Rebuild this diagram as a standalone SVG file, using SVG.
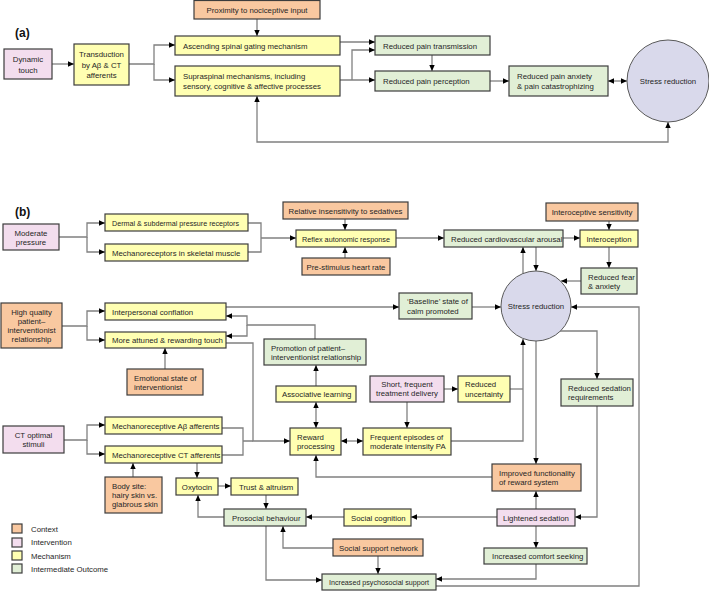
<svg xmlns="http://www.w3.org/2000/svg" width="709" height="591" viewBox="0 0 709 591">
<style>
.b{stroke:#3c3c3c;stroke-width:1.2}
.ctx{fill:#f9c8a0}
.int{fill:#f3ddee}
.mec{fill:#ffffb2}
.out{fill:#e1efd6}
.cir{fill:#d9d9eb;stroke:#5a5a5a;stroke-width:1}
.t{font-family:"Liberation Sans",Arial,sans-serif;font-size:7.8px;fill:#262626}
.m{text-anchor:middle}
.h{font-family:"Liberation Sans",Arial,sans-serif;font-size:12px;font-weight:bold;fill:#111}
.ln{fill:none;stroke:#808080;stroke-width:1.3}
.a{marker-end:url(#ar)}
.d{marker-start:url(#ar);marker-end:url(#ar)}
</style>
<defs>
<marker id="ar" markerUnits="userSpaceOnUse" markerWidth="6" markerHeight="6" viewBox="0 0 6 6" refX="6" refY="3" orient="auto-start-reverse"><path d="M0,0.3 L6,3 L0,5.7 Z" fill="#000"/></marker>
</defs>
<rect width="709" height="591" fill="#fff"/>
<text class="h" x="15" y="37">(a)</text>
<text class="h" x="15" y="216">(b)</text>

<g id="connectors">
<!-- part a -->
<path class="ln a" d="M52,64 H74"/>
<path class="ln a" d="M129,64 H154 V45 H175"/>
<path class="ln a" d="M154,64 V80 H175"/>
<path class="ln a" d="M257,19 V36"/>
<path class="ln a" d="M340,42 H375"/>
<path class="ln a" d="M340,80 H375"/>
<path class="ln a" d="M352,80 V50 H375"/>
<path class="ln a" d="M432,55 V71"/>
<path class="ln a" d="M490,81 H509"/>
<path class="ln d" d="M608,81 H627"/>
<path class="ln d" d="M668,122 V142 H257 V96"/>
<!-- part b -->
<path class="ln a" d="M59,237 H87 V223 H105"/>
<path class="ln a" d="M87,237 V252 H105"/>
<path class="ln" d="M248,223 H261 V252 H248"/>
<path class="ln a" d="M261,238 H296"/>
<path class="ln a" d="M345,219 V230"/>
<path class="ln a" d="M345,258 V247"/>
<path class="ln a" d="M396,238 H444"/>
<path class="ln a" d="M563,238 H580"/>
<path class="ln a" d="M609,221 V230"/>
<path class="ln a" d="M609,247 V268"/>
<path class="ln a" d="M581,281 H561"/>
<path class="ln a" d="M523,274 V247"/>
<path class="ln a" d="M536,247 V271"/>
<path class="ln a" d="M226,307 H399"/>
<path class="ln a" d="M472,307 H501"/>
<path class="ln a" d="M436,586 H639 V307 H571"/>
<path class="ln a" d="M560,331 H597 V379"/>
<path class="ln a" d="M597,406 V517 H575"/>
<path class="ln a" d="M536,509 V491"/>
<path class="ln a" d="M536,341 V464"/>
<path class="ln a" d="M451,441 H523 V339"/>
<path class="ln" d="M510,389 H523"/>
<path class="ln a" d="M444,389 H458"/>
<path class="ln a" d="M407,402 V428"/>
<path class="ln a" d="M492,477 H316 V455"/>
<path class="ln d" d="M341,441 H363"/>
<path class="ln d" d="M316,402 V428"/>
<path class="ln a" d="M316,386 V365"/>
<path class="ln a" d="M315,339 V325 H247 V316 H226"/>
<path class="ln a" d="M247,325 V336 H226"/>
<path class="ln a" d="M62,326 H87 V311 H105"/>
<path class="ln a" d="M87,326 V340 H105"/>
<path class="ln a" d="M165,369 V348"/>
<path class="ln a" d="M226,343 H253 V441 H290"/>
<path class="ln a" d="M64,440 H87 V425 H105"/>
<path class="ln a" d="M87,440 V454 H105"/>
<path class="ln" d="M222,428 H243 V455 H222 M243,441 H253"/>
<path class="ln a" d="M197,463 V478"/>
<path class="ln a" d="M133,477 V463"/>
<path class="ln a" d="M218,486 H231"/>
<path class="ln a" d="M266,495 V509"/>
<path class="ln a" d="M224,517 H198 V495"/>
<path class="ln a" d="M497,517 H411"/>
<path class="ln a" d="M344,517 H306"/>
<path class="ln a" d="M333,548 H283 V526"/>
<path class="ln a" d="M378,556 V574"/>
<path class="ln a" d="M266,526 V580 H322"/>
<path class="ln a" d="M536,526 V548"/>
<path class="ln a" d="M536,564 V579 H436"/>
</g>

<!-- part a nodes -->
<g id="dynamic-touch"><rect class="b int" x="4" y="49" width="48" height="30"/><text class="t m" x="28" y="62">Dynamic</text><text class="t m" x="28" y="72.5">touch</text></g>
<g id="transduction"><rect class="b mec" x="74" y="44" width="55" height="41"/><text class="t m" x="101.5" y="57">Transduction</text><text class="t m" x="101.5" y="67.5">by Aβ &amp; CT</text><text class="t m" x="101.5" y="78">afferents</text></g>
<g id="proximity"><rect class="b ctx" x="194" y="0.5" width="126" height="18.5"/><text class="t m" x="257" y="12.5">Proximity to nociceptive input</text></g>
<g id="ascending"><rect class="b mec" x="175" y="36" width="165" height="19"/><text class="t" x="183" y="48.5">Ascending spinal gating mechanism</text></g>
<g id="supraspinal"><rect class="b mec" x="175" y="66" width="165" height="30"/><text class="t" x="183" y="79">Supraspinal mechanisms, including</text><text class="t" x="183" y="89">sensory, cognitive &amp; affective processes</text></g>
<g id="reduced-transmission"><rect class="b out" x="375" y="36" width="115" height="19"/><text class="t" x="383" y="48.5">Reduced pain transmission</text></g>
<g id="reduced-perception"><rect class="b out" x="375" y="71" width="115" height="20"/><text class="t" x="383" y="84">Reduced pain perception</text></g>
<g id="reduced-anxiety"><rect class="b out" x="509" y="66" width="99" height="30"/><text class="t" x="517" y="79">Reduced pain anxiety</text><text class="t" x="517" y="89">&amp; pain catastrophizing</text></g>
<g id="stress-a"><circle class="cir" cx="668" cy="81" r="41"/><text class="t m" x="668" y="84">Stress reduction</text></g>

<!-- part b nodes -->
<g id="moderate-pressure"><rect class="b int" x="3" y="224" width="56" height="26"/><text class="t m" x="31" y="235.5">Moderate</text><text class="t m" x="31" y="245">pressure</text></g>
<g id="dermal"><rect class="b mec" x="105" y="214" width="143" height="17"/><text class="t" x="112" y="225.5" textLength="127" lengthAdjust="spacingAndGlyphs">Dermal &amp; subdermal pressure receptors</text></g>
<g id="skeletal"><rect class="b mec" x="105" y="244" width="143" height="17"/><text class="t" x="112" y="255.5">Mechanoreceptors in skeletal muscle</text></g>
<g id="relative-insensitivity"><rect class="b ctx" x="283" y="202" width="125" height="17"/><text class="t m" x="345.5" y="213.5">Relative insensitivity to sedatives</text></g>
<g id="reflex"><rect class="b mec" x="296" y="230" width="100" height="17"/><text class="t" x="302" y="241.5" textLength="88" lengthAdjust="spacingAndGlyphs">Reflex autonomic response</text></g>
<g id="prestimulus"><rect class="b ctx" x="302" y="258" width="88" height="17"/><text class="t m" x="346" y="269.5">Pre-stimulus heart rate</text></g>
<g id="cardio"><rect class="b out" x="444" y="230" width="119" height="17"/><text class="t" x="451" y="241.5">Reduced cardiovascular arousal</text></g>
<g id="interoceptive-sensitivity"><rect class="b ctx" x="546" y="203" width="92" height="18"/><text class="t m" x="592" y="214.5">Interoceptive sensitivity</text></g>
<g id="interoception"><rect class="b mec" x="580" y="230" width="58" height="17"/><text class="t m" x="609" y="241.5">Interoception</text></g>
<g id="fear"><rect class="b out" x="581" y="268" width="56" height="26"/><text class="t" x="588" y="280">Reduced fear</text><text class="t" x="588" y="289">&amp; anxiety</text></g>
<g id="baseline"><rect class="b out" x="399" y="293" width="73" height="26"/><text class="t" x="407" y="304">‘Baseline’ state of</text><text class="t" x="407" y="314">calm promoted</text></g>
<g id="stress-b"><circle class="cir" cx="536" cy="306" r="35"/><text class="t m" x="536" y="309">Stress reduction</text></g>
<g id="high-quality"><rect class="b ctx" x="1" y="303" width="61" height="45"/><text class="t m" x="31.5" y="315">High quality</text><text class="t m" x="31.5" y="324">patient–</text><text class="t m" x="31.5" y="333">interventionist</text><text class="t m" x="31.5" y="342">relationship</text></g>
<g id="interpersonal"><rect class="b mec" x="105" y="303" width="121" height="17"/><text class="t" x="112" y="314.5">Interpersonal conflation</text></g>
<g id="attuned"><rect class="b mec" x="105" y="332" width="121" height="16"/><text class="t" x="112" y="343">More attuned &amp; rewarding touch</text></g>
<g id="emotional"><rect class="b ctx" x="127" y="369" width="76" height="26"/><text class="t" x="134" y="381">Emotional state of</text><text class="t" x="134" y="390">interventionist</text></g>
<g id="promotion"><rect class="b out" x="264" y="339" width="102" height="26"/><text class="t" x="271" y="350.5">Promotion of patient–</text><text class="t" x="271" y="359.5">interventionist relationship</text></g>
<g id="associative"><rect class="b mec" x="276" y="386" width="80" height="16"/><text class="t" x="282" y="396.5">Associative learning</text></g>
<g id="short-frequent"><rect class="b int" x="370" y="376" width="74" height="26"/><text class="t m" x="407" y="386.5">Short, frequent</text><text class="t m" x="407" y="395.5">treatment delivery</text></g>
<g id="uncertainty"><rect class="b mec" x="458" y="376" width="52" height="26"/><text class="t" x="465" y="387">Reduced</text><text class="t" x="465" y="396.5">uncertainty</text></g>
<g id="sedation-req"><rect class="b out" x="561" y="379" width="72" height="27"/><text class="t" x="568" y="390.5">Reduced sedation</text><text class="t" x="568" y="399.5">requirements</text></g>
<g id="reward"><rect class="b mec" x="290" y="428" width="51" height="27"/><text class="t" x="297" y="439.5">Reward</text><text class="t" x="297" y="448.5">processing</text></g>
<g id="frequent-pa"><rect class="b mec" x="363" y="428" width="88" height="27"/><text class="t" x="370" y="439.5">Frequent episodes of</text><text class="t" x="370" y="448.5">moderate intensity PA</text></g>
<g id="ct-optimal"><rect class="b int" x="3" y="426" width="61" height="27"/><text class="t m" x="33.5" y="438">CT optimal</text><text class="t m" x="33.5" y="447">stimuli</text></g>
<g id="ab-afferents"><rect class="b mec" x="105" y="417" width="117" height="17"/><text class="t" x="112" y="428.5">Mechanoreceptive Aβ afferents</text></g>
<g id="ct-afferents"><rect class="b mec" x="105" y="446" width="117" height="17"/><text class="t" x="112" y="457.5">Mechanoreceptive CT afferents</text></g>
<g id="improved-reward"><rect class="b ctx" x="492" y="464" width="89" height="27"/><text class="t" x="499" y="476">Improved functionality</text><text class="t" x="499" y="485">of reward system</text></g>
<g id="body-site"><rect class="b ctx" x="105" y="477" width="57" height="36"/><text class="t" x="112" y="489">Body site:</text><text class="t" x="112" y="498">hairy skin vs.</text><text class="t" x="112" y="507">glabrous skin</text></g>
<g id="oxytocin"><rect class="b mec" x="176" y="478" width="42" height="17"/><text class="t m" x="197" y="489.5">Oxytocin</text></g>
<g id="trust"><rect class="b mec" x="231" y="478" width="67" height="17"/><text class="t" x="239" y="489.5">Trust &amp; altruism</text></g>
<g id="prosocial"><rect class="b out" x="224" y="509" width="82" height="17"/><text class="t" x="232" y="520.5">Prosocial behaviour</text></g>
<g id="social-cognition"><rect class="b mec" x="344" y="509" width="67" height="17"/><text class="t" x="351" y="520.5">Social cognition</text></g>
<g id="lightened"><rect class="b int" x="497" y="509" width="78" height="17"/><text class="t m" x="536" y="520.5">Lightened sedation</text></g>
<g id="social-support"><rect class="b ctx" x="333" y="539" width="90" height="17"/><text class="t" x="339" y="550.5">Social support network</text></g>
<g id="comfort"><rect class="b out" x="484" y="548" width="103" height="16"/><text class="t" x="492" y="559">Increased comfort seeking</text></g>
<g id="psychosocial"><rect class="b out" x="322" y="574" width="114" height="16"/><text class="t" x="329" y="585" textLength="100" lengthAdjust="spacingAndGlyphs">Increased psychosocial support</text></g>

<g id="legend">
<rect class="b ctx" x="12" y="524" width="10" height="9"/><text class="t" x="31" y="531.5">Context</text>
<rect class="b int" x="12" y="538" width="10" height="9"/><text class="t" x="31" y="545">Intervention</text>
<rect class="b mec" x="12" y="551" width="10" height="9"/><text class="t" x="31" y="558.5">Mechanism</text>
<rect class="b out" x="12" y="564" width="10" height="9"/><text class="t" x="31" y="571.5">Intermediate Outcome</text>
</g>
</svg>
